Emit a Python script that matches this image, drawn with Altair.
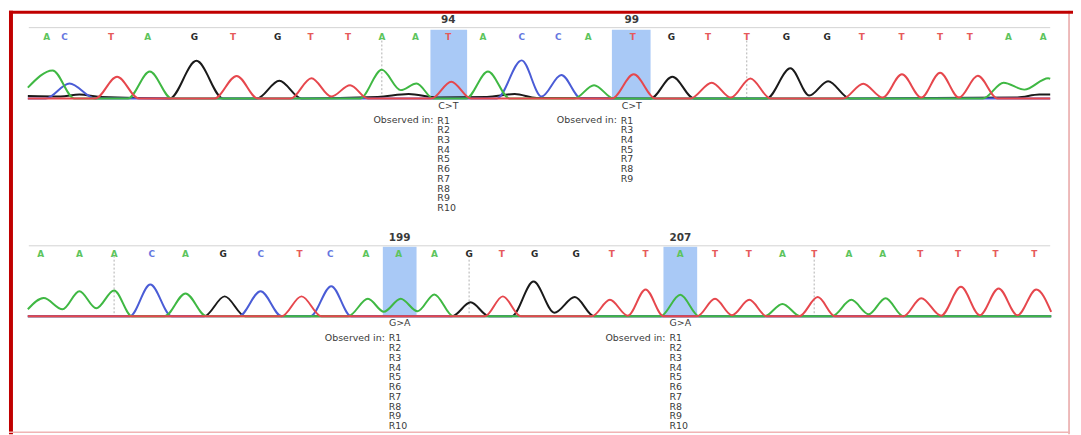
import altair as alt
import pandas as pd

# ---------------- data ----------------
# base calls (letter, scan position)
TOP_BASES = list("ACTAGTGTTAATACCATGTTGGTTTTAA")
TOP_BASE_X = [46, 64, 111, 148, 195, 234, 279, 312, 350, 384, 418, 451, 486, 525,
              562, 592, 637, 676, 713, 752, 792, 833, 868, 908, 947, 977, 1016, 1051]
BOT_BASES = list("AAACAGCTCAAAGTGGTTATTATAATTTT")
BOT_BASE_X = [40, 79, 114, 152, 186, 224, 262, 301, 332, 368, 401, 437, 472, 505, 538,
              580, 616, 650, 685, 720, 754, 788, 820, 855, 889, 927, 965, 1003, 1042]

TOP_GRID_X = [384, 752]
BOT_GRID_X = [114, 472, 820]

# trace points (scan position, intensity) per dye channel
TOP_A_X = [27, 52, 74, 128, 150, 172, 362, 384, 403, 419, 436, 469, 491, 513, 578, 598, 618, 990, 1011, 1032, 1056, 1058]
TOP_A_H = [11, 28.3, 0, 0, 27.2, 0, 0, 29, 8.5, 15.2, 0, 0, 27.2, 0, 0, 13.5, 0, 0, 16, 9, 20.5, 20]
TOP_C_X = [27, 45, 69, 95, 500, 525, 545, 565, 585, 1058]
TOP_C_H = [0, 0, 15.2, 0, 0, 38.5, 2, 23.7, 0, 0]
TOP_G_X = [27, 60, 79, 100, 170, 197, 224, 258, 280.6, 303, 380, 411, 440, 490, 518, 540, 655, 677, 699,
           772, 796, 815, 834, 856, 1025, 1047, 1058]
TOP_G_H = [2.5, 2, 4, 1.5, 0, 38, 0, 0, 18, 0, 1.5, 4.5, 1, 1.5, 4.5, 0.5, 0, 22, 0,
           0, 30.5, 3, 17.5, 0, 1, 4, 4]
TOP_T_X = [27, 95, 117, 139, 215, 237.6, 259, 292, 313, 333, 352, 370, 434, 454, 474, 616, 638, 660,
           695, 716.7, 736, 755.7, 776, 849, 869.5, 889, 908.5, 928, 947, 966, 985, 1005, 1058]
TOP_T_H = [0, 0, 22, 0, 0, 22.8, 0, 0, 20.5, 2, 13.5, 0, 0, 17, 0, 0, 24.5, 0,
           0, 16, 1, 20.3, 0, 0, 15, 1, 24.5, 1, 26, 1, 23, 0, 0]

BOT_A_X = [27, 43, 62, 79, 96, 114, 132, 165, 186, 207, 350, 370, 386, 403, 420, 437, 456, 665, 685, 704,
           770, 788, 806, 838, 857.5, 875, 892, 910, 1059]
BOT_A_H = [7, 18.3, 7, 25.2, 8, 26, 0, 0, 23, 0, 0, 17.6, 4.5, 17.6, 5, 22, 0, 0, 21.7, 0,
           0, 12.4, 0, 0, 16.5, 2, 18.2, 0, 0]
BOT_C_X = [27, 130, 150.5, 172, 240, 261.7, 283, 312, 333, 353, 1059]
BOT_C_H = [0, 0, 32, 0, 0, 25.2, 0, 0, 30.3, 0, 0]
BOT_G_X = [27, 205, 225.5, 246, 455, 473.5, 492, 515, 537, 558, 578.6, 598, 1059]
BOT_G_H = [0, 0, 20, 0, 0, 14, 0, 0, 35, 3.5, 19.3, 0, 0]
BOT_T_X = [27, 283, 303, 323, 488, 506, 524, 596, 614, 632, 650, 668, 702, 720, 737, 754.6, 772,
           805, 823.6, 841, 910, 928, 948, 968, 987, 1006, 1025, 1044, 1059]
BOT_T_H = [0, 0, 20, 0, 0, 20, 0, 0, 16.5, 0.5, 27, 0, 0, 17.5, 1, 16.5, 0,
           0, 19.3, 0, 0, 18.2, 0.5, 29.6, 1, 28, 1, 27, 4.4]

# variants
TOP_VAR_POS = ["94", "99"]
TOP_VAR_CENTER = [451, 636]
TOP_VAR_START = [433, 616]
TOP_VAR_END = [470, 655]
TOP_VAR_CHANGE = ["C>T", "C>T"]
TOP_VAR_SEEN = [["R1", "R2", "R3", "R4", "R5", "R6", "R7", "R8", "R9", "R10"],
                ["R1", "R3", "R4", "R5", "R7", "R8", "R9"]]

BOT_VAR_POS = ["199", "207"]
BOT_VAR_CENTER = [402, 685]
BOT_VAR_START = [385, 668]
BOT_VAR_END = [419, 702]
BOT_VAR_CHANGE = ["G>A", "G>A"]
BOT_VAR_SEEN = [["R1", "R2", "R3", "R4", "R5", "R6", "R7", "R8", "R9", "R10"],
                ["R1", "R2", "R3", "R4", "R5", "R6", "R7", "R8", "R9", "R10"]]

# ---------------- styles ----------------
TRACE_COLORS = {"A": "#3fb843", "C": "#4a5cd6", "G": "#1a1a1a", "T": "#e6474d"}
LETTER_DOMAIN = ["A", "C", "G", "T"]
LETTER_RANGE = ["#5cc45c", "#6577e0", "#2a2a2a", "#e65a5a"]
BAND_COLOR = "#a9c9f6"
TEXT_COLOR = "#3a3a3a"
FONT = "DejaVu Sans"
FS = 9.5
W = 1073


def panel(height, base_px, bases, base_x, traces, grid_x, var, lay):
    xs = alt.Scale(domain=[8, 8 + W], nice=False, zero=False)
    ys = alt.Scale(domain=[base_px - height, base_px], nice=False, zero=False)
    X = alt.X("x:Q", scale=xs, axis=None)

    layers = []
    # highlight bands
    vdf = pd.DataFrame({
        "pos": var[0], "x": var[1], "x0": var[2], "x1": var[3], "chg": var[4],
        "seen": ["\n".join(s) for s in var[5]],
    })
    vbase = alt.Chart(vdf)
    layers.append(vbase.mark_rect(color=BAND_COLOR).encode(
        x=alt.X("x0:Q", scale=xs, axis=None), x2="x1:Q",
        y=alt.value(lay["band_top"]), y2=alt.value(base_px - 1)))
    # header line
    layers.append(alt.Chart(pd.DataFrame({"x": [28], "x2": [1058]})).mark_rule(
        color="#d2d2d2", strokeWidth=1).encode(x=X, x2="x2:Q", y=alt.value(lay["header"])))
    # dotted grid
    layers.append(alt.Chart(pd.DataFrame({"x": grid_x})).mark_rule(
        color="#b0b0b0", strokeDash=[2, 2], strokeWidth=1).encode(
        x=X, y=alt.value(lay["grid_top"]), y2=alt.value(base_px)))
    # traces
    for ch in ["G", "C", "A", "T"]:
        xs_, hs_ = traces[ch]
        df = pd.DataFrame({"x": xs_, "h": hs_, "i": list(range(len(xs_)))})
        layers.append(alt.Chart(df).mark_line(
            interpolate="monotone", color=TRACE_COLORS[ch], strokeWidth=2).encode(
            x=X, y=alt.Y("h:Q", scale=ys, axis=None), order="i:Q"))
    # base letters
    ldf = pd.DataFrame({"x": base_x, "b": bases})
    layers.append(alt.Chart(ldf).mark_text(
        font=FONT, fontSize=9, fontWeight="bold", baseline="middle").encode(
        x=X, y=alt.value(lay["letters"]), text="b:N",
        color=alt.Color("b:N", scale=alt.Scale(domain=LETTER_DOMAIN, range=LETTER_RANGE), legend=None)))
    # variant texts
    layers.append(vbase.mark_text(font=FONT, fontSize=10.5, fontWeight="bold",
                                  color=TEXT_COLOR, baseline="middle").encode(
        x=X, y=alt.value(lay["num"]), text="pos:N"))
    layers.append(vbase.mark_text(font=FONT, fontSize=FS, color=TEXT_COLOR,
                                  baseline="middle").encode(
        x=X, y=alt.value(lay["chg"]), text="chg:N"))
    layers.append(vbase.mark_text(font=FONT, fontSize=FS, color=TEXT_COLOR,
                                  baseline="middle", align="right", dx=-15).encode(
        x=X, y=alt.value(lay["obs"]), text=alt.value("Observed in:")))
    layers.append(vbase.mark_text(font=FONT, fontSize=FS, color=TEXT_COLOR,
                                  baseline="top", align="left", dx=-11,
                                  lineBreak="\n", lineHeight=9.8).encode(
        x=X, y=alt.value(lay["obs"] - 4.2), text="seen:N"))
    # frame pieces
    one = alt.Chart(pd.DataFrame({"k": [0]}))
    layers.append(one.mark_rect(color="#c00000").encode(
        x=alt.value(0), x2=alt.value(4), y=alt.value(0), y2=alt.value(height)))
    layers.append(one.mark_rule(color="#e8a4a4", strokeWidth=1.5).encode(
        x=alt.value(1069), y=alt.value(0), y2=alt.value(height)))
    if lay.get("top_bar"):
        layers.append(one.mark_rect(color="#c00000").encode(
            x=alt.value(0), x2=alt.value(W), y=alt.value(0), y2=alt.value(3)))
    if lay.get("bottom_line") is not None:
        layers.append(one.mark_rule(color="#f0b4b4", strokeWidth=1.5).encode(
            x=alt.value(0), x2=alt.value(1070), y=alt.value(lay["bottom_line"])))
    return alt.layer(*layers).properties(width=W, height=height)


top = panel(
    217, 88.5, TOP_BASES, TOP_BASE_X,
    {"A": (TOP_A_X, TOP_A_H), "C": (TOP_C_X, TOP_C_H), "G": (TOP_G_X, TOP_G_H), "T": (TOP_T_X, TOP_T_H)},
    TOP_GRID_X,
    (TOP_VAR_POS, TOP_VAR_CENTER, TOP_VAR_START, TOP_VAR_END, TOP_VAR_CHANGE, TOP_VAR_SEEN),
    {"band_top": 19, "header": 17, "grid_top": 30, "letters": 26, "num": 9, "chg": 96, "obs": 110,
     "top_bar": True},
)
bottom = panel(
    210, 91, BOT_BASES, BOT_BASE_X,
    {"A": (BOT_A_X, BOT_A_H), "C": (BOT_C_X, BOT_C_H), "G": (BOT_G_X, BOT_G_H), "T": (BOT_T_X, BOT_T_H)},
    BOT_GRID_X,
    (BOT_VAR_POS, BOT_VAR_CENTER, BOT_VAR_START, BOT_VAR_END, BOT_VAR_CHANGE, BOT_VAR_SEEN),
    {"band_top": 21, "header": 20, "grid_top": 30, "letters": 28, "num": 12.5, "chg": 97.7, "obs": 112.7,
     "bottom_line": 208},
)

chart = alt.vconcat(top, bottom, spacing=0, bounds="flush", padding=0).configure_view(strokeWidth=0)
chart.save("out.html", embed_options={"renderer": "svg", "actions": False})
